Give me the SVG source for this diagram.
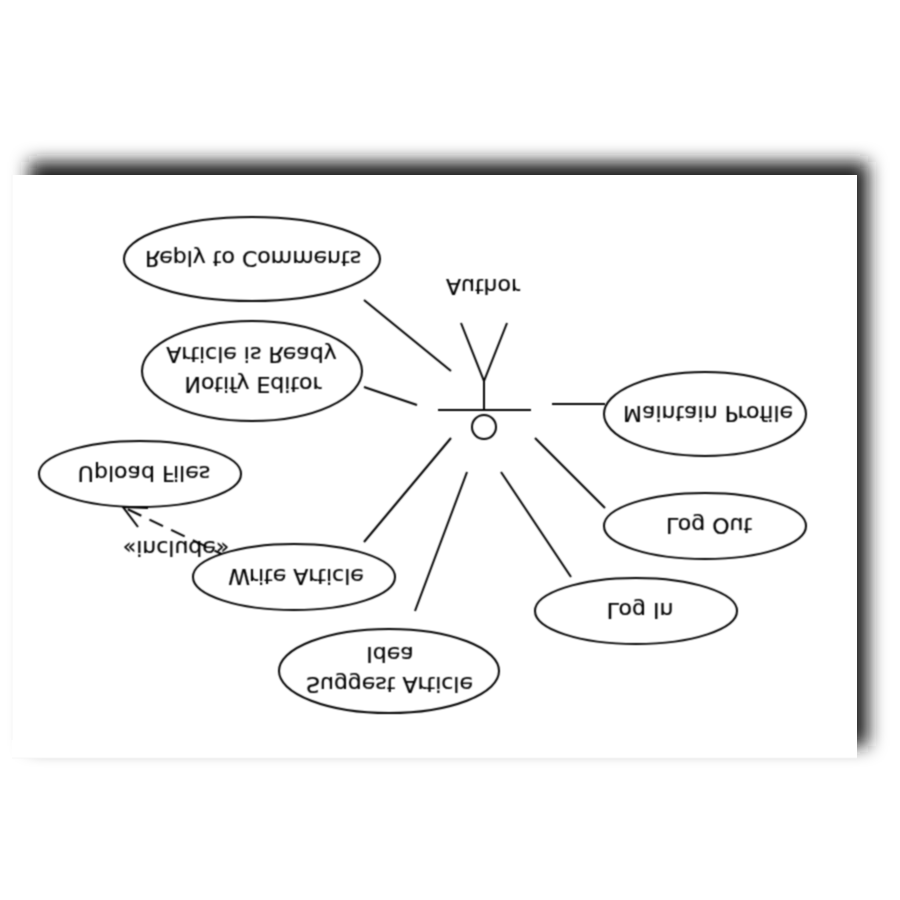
<svg xmlns="http://www.w3.org/2000/svg" width="900" height="900" viewBox="0 0 900 900">
<style>
.n{fill:#fff;stroke:#000;stroke-width:2}
.c{fill:none;stroke:#000;stroke-width:2}
text{font-family:"DejaVu Sans",sans-serif;font-size:22px;fill:#000;stroke:#000;stroke-width:0.2;text-anchor:middle}
</style>
<defs>
<filter id="s" x="-10%" y="-10%" width="120%" height="120%"><feGaussianBlur stdDeviation="9"/></filter>
<filter id="b" x="-5%" y="-5%" width="110%" height="110%" color-interpolation-filters="sRGB"><feConvolveMatrix order="3" kernelMatrix="1 2 1 2 6 2 1 2 1" divisor="18" preserveAlpha="false"/></filter>
</defs>
<rect width="900" height="900" fill="#fff"/>
<rect x="29" y="162" width="839" height="584" fill="#1c1c1c" filter="url(#s)"/>
<rect x="12" y="175" width="845" height="583" fill="#fff"/>
<path d="M12 175V740M12 758H857" fill="none" stroke="#f6f6f6" stroke-width="1"/>
<g filter="url(#b)">
<g id="connectors" class="c">
<path d="M364 300L451 371M364 387L417 405M451 438L364 542M467 472L415 611M501 472L571 577M535 438L605 508M552 404L605 404"/>
<path d="M228 557L123 507" stroke-dasharray="15 9"/>
<path d="M138 527L123 507L148 508"/>
</g>
<g id="actor-author" class="c">
<circle cx="484" cy="427" r="12"/>
<path d="M438 410H531M484 410V381M461 323L484 381L507 323"/>
<text transform="matrix(1 0 0 -1 483 279)">Author</text>
</g>
<g id="uc-reply"><ellipse class="n" cx="252" cy="259" rx="128" ry="42"/><text transform="matrix(1 0 0 -1 253 251)">Reply to Comments</text></g>
<g id="uc-notify"><ellipse class="n" cx="252" cy="371" rx="110" ry="50"/><text transform="matrix(1 0 0 -1 251.5 347)">Article is Ready</text><text transform="matrix(1 0 0 -1 253 377)">Notify Editor</text></g>
<g id="uc-upload"><ellipse class="n" cx="140" cy="474" rx="101" ry="33"/><text transform="matrix(1 0 0 -1 144 466)">Upload Files</text></g>
<g id="uc-write"><ellipse class="n" cx="294" cy="577" rx="101" ry="33"/><text transform="matrix(1 0 0 -1 296 569)">Write Article</text></g>
<g id="uc-suggest"><ellipse class="n" cx="389" cy="671" rx="110" ry="42"/><text transform="matrix(1 0 0 -1 390 647)">Idea</text><text transform="matrix(1 0 0 -1 389.5 677)">Suggest Article</text></g>
<g id="uc-login"><ellipse class="n" cx="636" cy="611" rx="101" ry="33"/><text transform="matrix(1 0 0 -1 640 603)">Log In</text></g>
<g id="uc-logout"><ellipse class="n" cx="705" cy="526" rx="101" ry="33"/><text transform="matrix(1 0 0 -1 709 518)">Log Out</text></g>
<g id="uc-maintain"><ellipse class="n" cx="705" cy="414" rx="101" ry="42"/><text transform="matrix(1 0 0 -1 708 406)">Maintain Profile</text></g>
<text id="label-include" transform="matrix(1 0 0 -1 176 541)">«include»</text>
</g>
</svg>
